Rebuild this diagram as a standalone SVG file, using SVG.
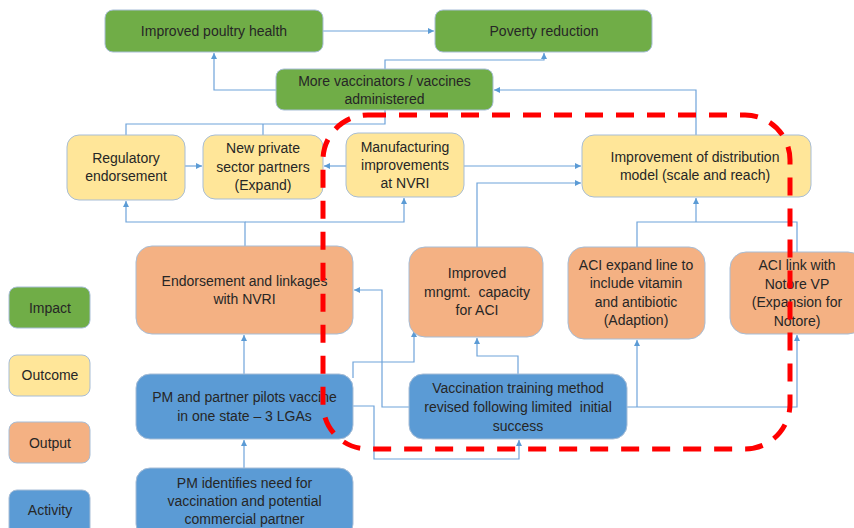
<svg xmlns="http://www.w3.org/2000/svg" width="854" height="528" viewBox="0 0 854 528">
<defs>
<marker id="arr" markerUnits="userSpaceOnUse" markerWidth="7" markerHeight="7" refX="6" refY="3" orient="auto">
<path d="M0,0 L6,3 L0,6 z" fill="#5B9BD5"/>
</marker>
<style>
.box{stroke:#A7BDD6;stroke-width:1}
.imp{fill:#70AD47}
.out{fill:#FFE699}
.opt{fill:#F4B183}
.act{fill:#5B9BD5}
text{font-family:"Liberation Sans",Arial,sans-serif;font-size:14px;fill:#262626;text-anchor:middle;white-space:pre}
.c path{fill:none;stroke:#6FA3DA;stroke-width:1.2}
.a{marker-end:url(#arr)}
</style>
</defs>
<rect width="854" height="528" fill="#FFFFFF"/>

<g class="c" id="connectors">
<path class="a" d="M323,31 H434"/>
<path class="a" d="M276,90 H214 V53"/>
<path class="a" d="M385,69 V60 H544 V53"/>
<path class="a" d="M696,135 V90 H494"/>
<path d="M126,135 V124 H385 V110"/>
<path d="M263,135 V124"/>
<path class="a" d="M185,166 H202"/>
<path class="a" d="M346,166 H324"/>
<path class="a" d="M464,166 H581"/>
<path class="a" d="M477,247 V183 H581"/>
<path class="a" d="M245,246 V222 H126 V201"/>
<path class="a" d="M245,222 H404 V198"/>
<path d="M637,247 V222 H797 V252"/>
<path class="a" d="M696,222 V198"/>
<path class="a" d="M244,374 V335"/>
<path class="a" d="M244,468 V440"/>
<path class="a" d="M409,407 H382 V290 H354"/>
<path class="a" d="M353,378 V362 H414 V331"/>
<path class="a" d="M353,406 H374 V459 H519 V440"/>
<path class="a" d="M518,374 V356 H477 V338"/>
<path class="a" d="M627,407 H797 V335"/>
<path class="a" d="M637,407 V340"/>
</g>

<g id="n-poultry"><rect class="box imp" x="105" y="10" width="218" height="42" rx="8"/><text x="214" y="36">Improved poultry health</text></g>
<g id="n-poverty"><rect class="box imp" x="435" y="10" width="217" height="42" rx="8"/><text x="544" y="36">Poverty reduction</text></g>
<g id="n-vaccinators"><rect class="box imp" x="276" y="69" width="217" height="41" rx="8"/><text x="384.5" y="86">More vaccinators / vaccines</text><text x="384.5" y="104">administered</text></g>

<g id="n-regulatory"><rect class="box out" x="67" y="135" width="118" height="65" rx="12"/><text x="126" y="163">Regulatory</text><text x="126" y="181">endorsement</text></g>
<g id="n-private"><rect class="box out" x="203" y="135" width="120" height="64" rx="12"/><text x="263" y="153">New private</text><text x="263" y="172">sector partners</text><text x="263" y="190">(Expand)</text></g>
<g id="n-manufacturing"><rect class="box out" x="346" y="133" width="118" height="64" rx="12"/><text x="405" y="152">Manufacturing</text><text x="405" y="170">improvements</text><text x="405" y="188">at NVRI</text></g>
<g id="n-distribution"><rect class="box out" x="582" y="135" width="229" height="62" rx="12"/><text x="695" y="162">Improvement of distribution</text><text x="695" y="180">model (scale and reach)</text></g>

<g id="n-endorsement"><rect class="box opt" x="136" y="246" width="217" height="88" rx="16"/><text x="244.5" y="286">Endorsement and linkages</text><text x="244.5" y="304">with NVRI</text></g>
<g id="n-mngmt"><rect class="box opt" x="409" y="247" width="134" height="90" rx="16"/><text x="477" y="278">Improved</text><text x="477" y="297">mngmt.  capacity</text><text x="477" y="315">for ACI</text></g>
<g id="n-expand"><rect class="box opt" x="568" y="247" width="137" height="92" rx="16"/><text x="636" y="270">ACI expand line to</text><text x="636" y="288">include vitamin</text><text x="636" y="307">and antibiotic</text><text x="636" y="325">(Adaption)</text></g>
<g id="n-notore"><rect class="box opt" x="730" y="252" width="134" height="82" rx="16"/><text x="797" y="270">ACI link with</text><text x="797" y="289">Notore VP</text><text x="797" y="307">(Expansion for</text><text x="797" y="326">Notore)</text></g>

<g id="n-pilots"><rect class="box act" x="136" y="374" width="217" height="65" rx="14"/><text x="244.5" y="402">PM and partner pilots vaccine</text><text x="244.5" y="421">in one state – 3 LGAs</text></g>
<g id="n-training"><rect class="box act" x="409" y="374" width="218" height="65" rx="14"/><text x="518" y="393">Vaccination training method</text><text x="518" y="412">revised following limited  initial</text><text x="518" y="431">success</text></g>
<g id="n-identifies"><rect class="box act" x="136" y="468" width="217" height="70" rx="14"/><text x="244.5" y="488">PM identifies need for</text><text x="244.5" y="506">vaccination and potential</text><text x="244.5" y="524">commercial partner</text></g>

<g id="legend-impact"><rect class="box imp" x="9" y="287" width="81" height="41" rx="8"/><text x="50" y="313">Impact</text></g>
<g id="legend-outcome"><rect class="box out" x="9" y="355" width="81" height="41" rx="8"/><text x="50" y="380">Outcome</text></g>
<g id="legend-output"><rect class="box opt" x="9" y="422" width="81" height="41" rx="8"/><text x="50" y="448">Output</text></g>
<g id="legend-activity"><rect class="box act" x="9" y="490" width="81" height="48" rx="8"/><text x="50" y="515">Activity</text></g>

<rect id="scope" x="323" y="115" width="467" height="334" rx="45" fill="none" stroke="#FF0000" stroke-width="5" stroke-dasharray="18 13"/>
</svg>
